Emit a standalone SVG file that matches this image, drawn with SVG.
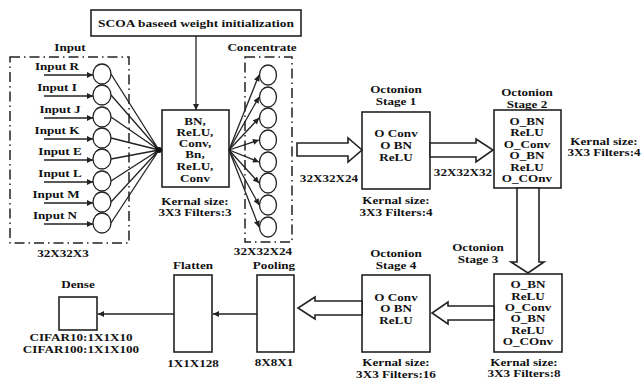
<svg xmlns="http://www.w3.org/2000/svg" width="644" height="381" viewBox="0 0 644 381">
<style>
text{font-family:"Liberation Serif","Times New Roman",serif;font-weight:bold;font-size:10.5px;text-anchor:middle;fill:#111}
.box{fill:#fff;stroke:#222;stroke-width:1.6}
.dash{fill:none;stroke:#222;stroke-width:1.5;stroke-dasharray:10 4 1.5 4}
.ln{stroke:#222;stroke-width:1.3;fill:none}
.circ{fill:#fff;stroke:#222;stroke-width:1.3}
.hollow{fill:#fff;stroke:#222;stroke-width:1.6;stroke-linejoin:miter}
</style>
<defs>
<marker id="ah" viewBox="0 0 10 10" refX="10" refY="5" markerWidth="7" markerHeight="6" markerUnits="userSpaceOnUse" orient="auto"><path d="M0,0 L10,5 L0,10 z" fill="#222"/></marker>
</defs>
<rect width="644" height="381" fill="#fff"/>

<g id="scoa">
<rect class="box" x="91" y="10" width="210" height="26"/>
<text transform="translate(196,27) scale(1.28,1)">SCOA baseed weight initialization</text>
</g>

<g id="input-layer">
<rect class="dash" x="10" y="57" width="119" height="186"/>
<text transform="translate(70,51) scale(1.25,1)">Input</text>
<text transform="translate(63,257) scale(1.25,1)">32X32X3</text>
<g id="in-R"><ellipse class="circ" cx="102" cy="74" rx="9" ry="10"/><text transform="translate(57,70) scale(1.25,1)">Input R</text></g>
<g id="in-I"><ellipse class="circ" cx="102" cy="95" rx="9" ry="10"/><text transform="translate(57,91) scale(1.25,1)">Input I</text></g>
<g id="in-J"><ellipse class="circ" cx="102" cy="117" rx="9" ry="10"/><text transform="translate(60,113) scale(1.25,1)">Input J</text></g>
<g id="in-K"><ellipse class="circ" cx="102" cy="138" rx="9" ry="10"/><text transform="translate(57,134) scale(1.25,1)">Input K</text></g>
<g id="in-E"><ellipse class="circ" cx="102" cy="159" rx="9" ry="10"/><text transform="translate(60,155) scale(1.25,1)">Input E</text></g>
<g id="in-L"><ellipse class="circ" cx="102" cy="181" rx="9" ry="10"/><text transform="translate(60,177) scale(1.25,1)">Input L</text></g>
<g id="in-M"><ellipse class="circ" cx="102" cy="202" rx="9" ry="10"/><text transform="translate(56,198) scale(1.25,1)">Input M</text></g>
<g id="in-N"><ellipse class="circ" cx="102" cy="223" rx="9" ry="10"/><text transform="translate(55,219) scale(1.25,1)">Input N</text></g>
</g>

<g id="bn-block">
<rect class="box" x="162" y="110" width="67" height="77"/>
<text transform="translate(195,125) scale(1.25,1)">BN,</text>
<text transform="translate(195,136) scale(1.25,1)">ReLU,</text>
<text transform="translate(195,147) scale(1.25,1)">Conv,</text>
<text transform="translate(195,158) scale(1.25,1)">Bn,</text>
<text transform="translate(195,170) scale(1.25,1)">ReLU,</text>
<text transform="translate(195,182) scale(1.25,1)">Conv</text>
<text transform="translate(195,205) scale(1.25,1)">Kernal size:</text>
<text transform="translate(195,216) scale(1.25,1)">3X3 Filters:3</text>
</g>

<g id="concentrate">
<rect class="dash" x="245" y="57" width="47" height="185"/>
<text transform="translate(262,51) scale(1.25,1)">Concentrate</text>
<text transform="translate(263,255) scale(1.25,1)">32X32X24</text>
<ellipse class="circ" cx="268" cy="75" rx="8.5" ry="10"/>
<ellipse class="circ" cx="268" cy="97" rx="8.5" ry="10"/>
<ellipse class="circ" cx="268" cy="118" rx="8.5" ry="10"/>
<ellipse class="circ" cx="268" cy="140" rx="8.5" ry="10"/>
<ellipse class="circ" cx="268" cy="162" rx="8.5" ry="10"/>
<ellipse class="circ" cx="268" cy="183" rx="8.5" ry="10"/>
<ellipse class="circ" cx="268" cy="205" rx="8.5" ry="10"/>
<ellipse class="circ" cx="268" cy="227" rx="8.5" ry="10"/>
</g>

<g id="stage1">
<rect class="box" x="362" y="112" width="68" height="77"/>
<text transform="translate(396,93) scale(1.25,1)">Octonion</text>
<text transform="translate(396,105) scale(1.25,1)">Stage 1</text>
<text transform="translate(396,137) scale(1.25,1)">O Conv</text>
<text transform="translate(396,149) scale(1.25,1)">O BN</text>
<text transform="translate(396,161) scale(1.25,1)">ReLU</text>
<text transform="translate(396,204) scale(1.25,1)">Kernal size:</text>
<text transform="translate(396,216) scale(1.25,1)">3X3 Filters:4</text>
</g>

<g id="stage2">
<rect class="box" x="494" y="110" width="67" height="78"/>
<text transform="translate(527,96) scale(1.25,1)">Octonion</text>
<text transform="translate(527,108) scale(1.25,1)">Stage 2</text>
<text transform="translate(527,125) scale(1.25,1)">O_BN</text>
<text transform="translate(527,136) scale(1.25,1)">ReLU</text>
<text transform="translate(527,148) scale(1.25,1)">O_Conv</text>
<text transform="translate(527,159) scale(1.25,1)">O_BN</text>
<text transform="translate(527,171) scale(1.25,1)">ReLU</text>
<text transform="translate(527,182) scale(1.25,1)">O_COnv</text>
<text transform="translate(604,145) scale(1.25,1)">Kernal size:</text>
<text transform="translate(604,156) scale(1.25,1)">3X3 Filters:4</text>
</g>

<g id="stage3">
<rect class="box" x="494" y="274" width="68" height="78"/>
<text transform="translate(478,251) scale(1.25,1)">Octonion</text>
<text transform="translate(478,263) scale(1.25,1)">Stage 3</text>
<text transform="translate(528,288) scale(1.25,1)">O_BN</text>
<text transform="translate(528,300) scale(1.25,1)">ReLU</text>
<text transform="translate(528,311) scale(1.25,1)">O_Conv</text>
<text transform="translate(528,322) scale(1.25,1)">O_BN</text>
<text transform="translate(528,334) scale(1.25,1)">ReLU</text>
<text transform="translate(528,345) scale(1.25,1)">O_COnv</text>
<text transform="translate(524,366) scale(1.25,1)">Kernal size:</text>
<text transform="translate(524,377) scale(1.25,1)">3X3 Filters:8</text>
</g>

<g id="stage4">
<rect class="box" x="362" y="275" width="68" height="77"/>
<text transform="translate(396,257) scale(1.25,1)">Octonion</text>
<text transform="translate(396,269) scale(1.25,1)">Stage 4</text>
<text transform="translate(396,301) scale(1.25,1)">O Conv</text>
<text transform="translate(396,312) scale(1.25,1)">O BN</text>
<text transform="translate(396,324) scale(1.25,1)">ReLU</text>
<text transform="translate(396,366) scale(1.25,1)">Kernal size:</text>
<text transform="translate(396,378) scale(1.25,1)">3X3 Filters:16</text>
</g>

<g id="pooling">
<rect class="box" x="257" y="275" width="37" height="77"/>
<text transform="translate(274,269) scale(1.25,1)">Pooling</text>
<text transform="translate(274,366) scale(1.25,1)">8X8X1</text>
</g>

<g id="flatten">
<rect class="box" x="174" y="275" width="38" height="77"/>
<text transform="translate(193,269) scale(1.25,1)">Flatten</text>
<text transform="translate(193,367) scale(1.25,1)">1X1X128</text>
</g>

<g id="dense">
<rect class="box" x="59" y="297" width="38" height="33"/>
<text transform="translate(78,288) scale(1.25,1)">Dense</text>
<text transform="translate(81,341) scale(1.25,1)">CIFAR10:1X1X10</text>
<text transform="translate(81,353) scale(1.25,1)">CIFAR100:1X1X100</text>
</g>

<g id="labels">
<text transform="translate(329,182) scale(1.25,1)">32X32X24</text>
<text transform="translate(463,176) scale(1.25,1)">32X32X32</text>
</g>

<g id="connectors">
<line class="ln" x1="196" y1="36" x2="196" y2="110" marker-end="url(#ah)"/>
<line class="ln" x1="44" y1="75" x2="93" y2="75" marker-end="url(#ah)"/>
<line class="ln" x1="44" y1="96" x2="93" y2="96" marker-end="url(#ah)"/>
<line class="ln" x1="44" y1="118" x2="93" y2="118" marker-end="url(#ah)"/>
<line class="ln" x1="44" y1="139" x2="93" y2="139" marker-end="url(#ah)"/>
<line class="ln" x1="44" y1="160" x2="93" y2="160" marker-end="url(#ah)"/>
<line class="ln" x1="44" y1="182" x2="93" y2="182" marker-end="url(#ah)"/>
<line class="ln" x1="44" y1="203" x2="93" y2="203" marker-end="url(#ah)"/>
<line class="ln" x1="44" y1="224" x2="93" y2="224" marker-end="url(#ah)"/>
<path class="ln" d="M111,74 L159,150 M111,95 L159,150 M111,117 L159,150 M111,138 L159,150 M111,159 L159,150 M111,181 L159,150 M111,202 L159,150 M111,223 L159,150"/>
<circle cx="159" cy="150" r="3" fill="#111"/>
<line class="ln" x1="229" y1="150" x2="259" y2="75" marker-end="url(#ah)"/>
<line class="ln" x1="229" y1="150" x2="259" y2="97" marker-end="url(#ah)"/>
<line class="ln" x1="229" y1="150" x2="259" y2="118" marker-end="url(#ah)"/>
<line class="ln" x1="229" y1="150" x2="259" y2="140" marker-end="url(#ah)"/>
<line class="ln" x1="229" y1="150" x2="259" y2="162" marker-end="url(#ah)"/>
<line class="ln" x1="229" y1="150" x2="259" y2="183" marker-end="url(#ah)"/>
<line class="ln" x1="229" y1="150" x2="259" y2="205" marker-end="url(#ah)"/>
<line class="ln" x1="229" y1="150" x2="259" y2="227" marker-end="url(#ah)"/>
<polygon class="hollow" points="297,143 348,143 348,138 362,150 348,162 348,156 297,156"/>
<polygon class="hollow" points="430,143 476,143 476,139 493,150 476,162 476,157 430,157"/>
<polygon class="hollow" points="517,188 517,262 511,262 528,273 544,262 539,262 539,188"/>
<polygon class="hollow" points="494,306 448,306 448,302 432,313 448,324 448,320 494,320"/>
<polygon class="hollow" points="362,301 315,301 315,297 298,308 315,319 315,315 362,315"/>
<line class="ln" x1="257" y1="314" x2="213" y2="314" marker-end="url(#ah)"/>
<line class="ln" x1="174" y1="314" x2="98" y2="314" marker-end="url(#ah)"/>
</g>
</svg>
